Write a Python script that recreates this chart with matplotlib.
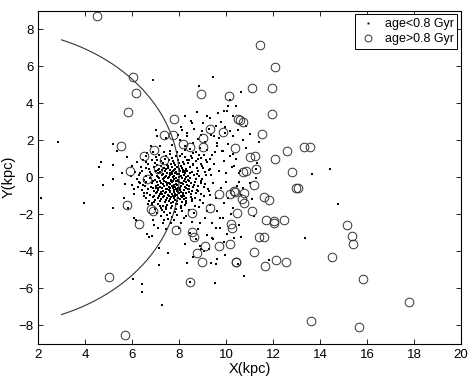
import numpy as np
import matplotlib
matplotlib.use("Agg")
import matplotlib.pyplot as plt

plt.rcParams['font.family'] = ['Liberation Sans', 'DejaVu Sans']

# stars older than 0.8 Gyr (open circles)
old_stars = [
    (4.51, 8.68), (6.04, 5.41), (6.15, 4.55), (5.84, 3.50), (7.77, 3.16), (5.53, 1.71),
    (7.34, 2.26), (7.73, 2.30), (6.52, 1.12), (6.92, 1.48), (5.93, 0.36), (7.37, 0.95),
    (8.18, 1.78), (8.45, 1.64), (8.91, 4.50), (10.11, 4.37), (9.32, 2.59), (9.87, 2.46),
    (9.00, 2.12), (9.03, 1.62), (10.38, 1.60), (10.49, 3.16), (10.61, 3.07), (10.70, 2.98),
    (7.09, 0.45), (6.64, -0.12), (11.46, 7.12), (12.08, 5.93), (11.12, 4.84), (11.94, 4.82),
    (11.96, 3.42), (11.53, 2.34), (13.30, 1.65), (13.56, 1.65), (12.58, 1.40), (11.23, 1.17),
    (11.03, 1.08), (12.07, 0.97), (12.82, 0.29), (10.72, 0.27), (10.86, 0.31), (11.25, 0.43),
    (11.19, -0.43), (12.96, -0.57), (13.06, -0.57), (10.35, -0.75), (10.78, -0.88),
    (10.69, -1.20), (10.75, -1.42), (11.62, -1.09), (11.83, -1.22), (11.11, -1.81),
    (10.47, -1.96), (11.69, -2.33), (12.03, -2.39), (12.03, -2.46), (12.45, -2.32),
    (15.13, -2.57), (15.36, -3.18), (15.40, -3.63), (11.42, -3.21), (11.63, -3.23),
    (11.19, -4.04), (14.49, -4.29), (10.40, -4.56), (11.65, -4.78), (12.14, -4.47),
    (12.55, -4.60), (15.83, -5.51), (17.79, -6.72), (13.62, -7.78), (15.66, -8.07),
    (9.70, -0.93), (10.18, -0.93), (10.37, -0.79), (9.33, -1.69), (5.79, -1.51),
    (6.82, -1.74), (6.88, -1.82), (6.30, -2.53), (8.54, -1.92), (7.87, -2.86), (8.55, -2.95),
    (8.65, -3.24), (9.12, -3.72), (9.69, -3.72), (10.15, -3.63), (10.20, -2.55),
    (10.23, -2.77), (8.77, -4.08), (8.98, -4.56), (10.41, -4.56), (5.02, -5.41),
    (8.48, -5.66), (5.70, -8.50),
]

# young stars (dots): dense core around the Sun
young_core = [
    (7.35, 1.34), (7.62, 1.27), (7.91, 1.36), (8.12, 1.25), (6.90, 1.38), (8.60, 1.32),
    (7.02, 1.08), (7.44, 1.15), (7.71, 1.04), (7.86, 1.12), (8.27, 1.07), (8.52, 1.16),
    (6.60, 1.12), (8.95, 1.05), (6.84, 0.92), (7.21, 0.86), (7.55, 0.95), (7.76, 0.88),
    (7.97, 0.93), (8.16, 0.84), (8.41, 0.91), (8.70, 0.87), (9.15, 0.95), (6.68, 0.73),
    (7.06, 0.66), (7.31, 0.75), (7.49, 0.68), (7.64, 0.72), (7.81, 0.65), (8.01, 0.74),
    (8.21, 0.69), (8.36, 0.76), (8.61, 0.67), (8.92, 0.71), (6.58, 0.47), (6.91, 0.53),
    (7.14, 0.45), (7.36, 0.52), (7.54, 0.48), (7.69, 0.55), (7.84, 0.46), (7.96, 0.53),
    (8.11, 0.49), (8.29, 0.44), (8.46, 0.54), (8.74, 0.48), (9.02, 0.51), (9.30, 0.45),
    (6.44, 0.31), (6.76, 0.26), (7.01, 0.33), (7.19, 0.27), (7.41, 0.34), (7.59, 0.25),
    (7.73, 0.32), (7.87, 0.28), (8.03, 0.35), (8.17, 0.26), (8.34, 0.31), (8.56, 0.27),
    (8.81, 0.33), (9.12, 0.28), (6.31, 0.12), (6.61, 0.06), (6.86, 0.13), (7.04, 0.07),
    (7.26, 0.14), (7.46, 0.05), (7.61, 0.11), (7.77, 0.08), (7.91, 0.15), (8.06, 0.04),
    (8.21, 0.12), (8.39, 0.07), (8.62, 0.13), (8.86, 0.06), (6.19, -0.08), (6.49, -0.13),
    (6.74, -0.06), (6.96, -0.14), (7.14, -0.07), (7.33, -0.12), (7.51, -0.05), (7.66, -0.13),
    (7.79, -0.08), (7.94, -0.15), (8.11, -0.06), (8.27, -0.11), (8.46, -0.04), (8.71, -0.12),
    (8.96, -0.08), (6.34, -0.32), (6.61, -0.26), (6.84, -0.34), (7.06, -0.27), (7.24, -0.33),
    (7.43, -0.25), (7.57, -0.31), (7.71, -0.28), (7.87, -0.35), (8.01, -0.26), (8.14, -0.32),
    (8.31, -0.27), (8.49, -0.34), (8.66, -0.28), (8.91, -0.31), (6.24, -0.52), (6.56, -0.46),
    (6.79, -0.54), (7.01, -0.48), (7.19, -0.55), (7.37, -0.47), (7.56, -0.53), (7.69, -0.45),
    (7.83, -0.51), (7.96, -0.56), (8.09, -0.47), (8.24, -0.52), (8.43, -0.46), (8.59, -0.54),
    (8.81, -0.49), (9.06, -0.53), (6.41, -0.71), (6.69, -0.66), (6.93, -0.74), (7.11, -0.68),
    (7.31, -0.73), (7.47, -0.65), (7.63, -0.72), (7.77, -0.67), (7.91, -0.75), (8.04, -0.69),
    (8.21, -0.71), (8.37, -0.66), (8.56, -0.74), (8.76, -0.68), (6.51, -0.88), (6.77, -0.94),
    (7.01, -0.86), (7.19, -0.93), (7.41, -0.87), (7.54, -0.95), (7.71, -0.89), (7.84, -0.92),
    (8.01, -0.85), (8.16, -0.94), (8.31, -0.88), (8.51, -0.93), (8.73, -0.87), (8.94, -0.92),
    (6.59, -1.12), (6.89, -1.06), (7.09, -1.14), (7.31, -1.07), (7.47, -1.13), (7.66, -1.05),
    (7.79, -1.11), (7.96, -1.15), (8.11, -1.08), (8.29, -1.12), (8.49, -1.06), (8.69, -1.13),
    (6.71, -1.28), (6.94, -1.34), (7.17, -1.27), (7.39, -1.33), (7.57, -1.26), (7.76, -1.32),
    (7.91, -1.29), (8.11, -1.35), (8.31, -1.27), (8.54, -1.31), (6.86, -1.52), (7.09, -1.46),
    (7.31, -1.54), (7.49, -1.48), (7.71, -1.53), (7.87, -1.47), (8.06, -1.55), (8.27, -1.49),
    (6.96, -1.71), (7.21, -1.66), (7.44, -1.74), (7.64, -1.68), (7.86, -1.73), (8.09, -1.67),
    (7.06, -1.92), (7.34, -1.87), (7.59, -1.94), (7.81, -1.88), (7.21, -2.11), (7.49, -2.06),
    (7.71, -2.14),
    (7.08, 0.41), (7.27, 0.38), (7.45, 0.42), (7.63, 0.37), (7.80, 0.40), (7.98, 0.43),
    (8.15, 0.39), (7.12, 0.21), (7.30, 0.18), (7.50, 0.20), (7.68, 0.17), (7.83, 0.22),
    (7.99, 0.19), (8.26, 0.20), (7.10, 0.00), (7.38, 0.02), (7.55, -0.01), (7.72, 0.01),
    (7.86, -0.02), (8.00, 0.03), (8.31, -0.01), (6.90, -0.20), (7.20, -0.21), (7.37, -0.19),
    (7.64, -0.20), (7.76, -0.22), (7.92, -0.18), (8.20, -0.20), (8.40, -0.22), (7.10, -0.40),
    (7.30, -0.39), (7.47, -0.41), (7.62, -0.38), (7.77, -0.42), (7.90, -0.40), (8.16, -0.38),
    (8.35, -0.41), (6.88, -0.60), (7.08, -0.61), (7.26, -0.59), (7.43, -0.62), (7.60, -0.60),
    (7.74, -0.58), (7.88, -0.63), (8.02, -0.60), (8.30, -0.59), (7.05, -0.80), (7.24, -0.79),
    (7.45, -0.81), (7.60, -0.78), (7.77, -0.82), (7.95, -0.80), (8.10, -0.79), (8.44, -0.81),
    (6.95, -1.00), (7.16, -1.01), (7.36, -0.99), (7.56, -1.02), (7.73, -1.00), (7.90, -0.98),
    (8.06, -1.01), (8.22, -1.00), (7.22, -1.20), (7.44, -1.21), (7.62, -1.19), (7.84, -1.22),
    (8.02, -1.20), (8.20, -1.18),
    (6.47, -0.41), (6.63, -0.83), (6.72, 0.44), (6.83, -1.41), (6.97, 0.78), (7.03, -0.56),
    (7.13, 1.21), (7.17, -1.58), (7.23, 0.58), (7.28, -0.92), (7.34, -0.03), (7.39, 0.97),
    (7.42, -1.63), (7.48, -0.33), (7.52, 0.61), (7.58, -0.71), (7.61, 1.42), (7.67, -1.37),
    (7.70, 0.29), (7.74, -0.47), (7.79, 0.77), (7.82, -1.02), (7.85, -0.18), (7.89, 0.55),
    (7.93, -1.45), (7.97, -0.64), (8.02, 1.13), (8.07, -0.32), (8.09, 0.62), (8.13, -1.82),
    (8.18, -0.87), (8.23, 0.33), (8.28, -1.38), (8.33, 0.93), (8.37, -0.16), (8.42, -0.63),
    (8.47, 0.23), (8.53, -1.19), (8.58, 0.71), (8.63, -0.43), (8.68, -1.55), (8.74, 0.17),
    (8.79, -0.77), (8.85, 1.21), (8.88, -1.23), (8.93, -0.23), (8.99, 0.63), (9.04, -1.03),
    (9.09, -0.39), (9.13, 0.12), (9.21, -0.62), (9.17, 0.83), (9.27, 0.37), (9.33, -0.95),
    (6.37, 0.55), (6.52, -1.04), (6.28, -0.27), (6.13, 0.28), (6.08, -0.66), (6.57, 0.82),
    (6.66, -1.47), (6.79, 0.16), (6.99, -1.23), (7.07, 0.93), (7.27, -1.78), (7.53, -2.27),
    (7.35, -2.31), (7.91, -2.03), (8.19, -2.22), (8.41, -1.77), (8.62, -1.93), (8.83, -1.63),
    (9.02, -1.37), (9.19, -1.82), (8.23, 1.47), (8.53, 1.02), (8.79, 0.97), (9.05, 1.22),
    (9.31, 0.97), (9.52, 1.37),
]

# young stars: sparser halo around the core
young_halo = [
    (8.45, 1.50), (8.70, 1.35), (8.90, 1.60), (9.20, 1.45), (9.40, 1.20), (9.60, 1.70),
    (9.10, 1.90), (8.80, 2.05), (9.35, 2.30), (9.70, 2.10), (9.95, 2.70), (10.15, 2.50),
    (9.80, 3.00), (10.30, 3.30), (10.05, 3.60), (10.40, 3.85), (9.55, 2.75), (9.25, 2.60),
    (8.95, 2.30), (8.60, 1.85), (8.25, 1.70), (8.05, 2.00), (8.35, 2.40), (8.65, 2.60),
    (9.00, 2.90), (9.30, 3.20), (9.65, 3.45), (8.50, 3.05), (8.10, 2.70), (7.95, 2.30),
    (7.70, 1.75), (9.85, 1.40), (10.10, 1.80), (9.90, 0.90), (9.50, 0.70), (9.70, 0.35),
    (9.35, 0.10), (10.00, 0.20), (10.25, 0.55), (9.45, -0.30), (9.80, -0.60), (10.00, -0.25),
    (9.25, -0.75), (9.55, -1.10), (9.90, -1.40), (10.10, -1.15), (9.30, -1.50), (9.60, -1.85),
    (9.85, -2.20), (10.20, -2.00), (9.10, -2.20), (8.90, -2.50), (9.40, -2.45), (9.75, -2.75),
    (10.05, -3.05), (9.20, -3.10), (8.80, -2.80), (8.55, -2.40), (8.30, -2.10), (8.10, -2.50),
    (8.25, -3.60), (9.45, -3.35), (10.35, -3.30), (9.90, -3.50), (10.55, -2.60), (10.30, -1.65),
    (10.65, -0.95), (10.45, -0.45), (10.30, 1.25), (10.70, 2.00), (10.50, 2.55), (11.00, 2.35),
    (10.09, 3.87), (10.18, 4.19), (9.90, 3.56), (7.03, 2.57), (7.06, 2.25), (7.46, 2.12),
    (7.20, 1.67), (6.64, 1.28), (6.21, 0.83), (6.00, 0.59), (5.79, 1.10), (5.57, 0.24),
    (5.71, -0.36), (6.35, 0.24), (8.27, 3.29), (8.55, 2.93), (8.77, 3.50), (9.19, 3.29),
    (8.11, 2.57), (8.34, 2.21), (8.98, 2.48), (9.47, 2.21), (9.62, 1.85), (9.97, 2.39),
    (9.83, 1.40), (10.18, 1.13), (10.32, 0.59), (10.54, 0.24), (6.64, -3.09), (6.72, -3.25),
    (6.85, -3.20), (7.09, -2.73), (6.07, -2.19), (6.17, -2.33), (5.83, -1.69), (5.67, -1.11),
    (6.90, -2.30), (6.95, -2.60), (7.30, -2.45), (7.45, -2.80), (7.65, -2.50), (7.80, -2.30),
    (8.00, -2.75), (8.45, -3.00), (8.70, -3.35), (8.90, -3.70), (9.05, -4.00), (8.60, -4.30),
    (9.60, -4.40), (9.25, -3.90), (8.35, -4.65), (8.92, -3.86), (9.40, -3.27), (9.59, -2.73),
    (9.76, -2.19), (6.10, -0.90), (6.00, -0.40), (5.95, 0.05), (6.45, 0.95), (6.80, 1.70),
]

# young stars: isolated points far from the core
young_outliers = [
    (2.83, 1.89), (5.19, 1.80), (5.36, 1.44), (4.69, 0.81), (4.58, 0.56), (5.19, 0.65),
    (5.19, -0.09), (4.74, -0.41), (2.14, -1.11), (3.94, -1.40), (5.19, -1.69), (6.88, 5.23),
    (8.83, 4.94), (9.45, 5.39), (10.64, 4.60), (7.16, -3.81), (7.53, -4.08), (7.15, -4.76),
    (6.03, -5.51), (6.41, -5.75), (6.41, -6.18), (7.26, -6.93), (9.52, -5.69), (9.34, -4.62),
    (9.55, -4.71), (9.97, -4.22), (8.48, -5.66), (10.72, -0.57), (11.11, -1.20),
    (11.17, -2.10), (14.74, -1.47), (10.65, -3.21), (13.37, -3.30), (11.81, -4.47),
    (10.49, -4.67), (10.75, -5.34), (10.31, 2.25), (10.40, 0.99), (11.32, 0.74),
    (11.29, 0.42), (10.60, 0.32), (13.65, 0.15), (14.40, 0.45), (10.53, -0.27),
    (10.86, 2.75), (11.00, -0.30), (11.25, -0.05), (10.85, 1.55), (11.40, 1.90),
]

R_SUN = 8.0        # solar circle radius (kpc)
ARC_LIMIT = 68.0   # degrees either side of the x axis

young = np.array(young_core + young_halo + young_outliers)
old = np.array(old_stars)

fig = plt.figure(figsize=(4.71, 3.77), dpi=100)
ax = fig.add_axes([0.081, 0.088, 0.898, 0.884])

ax.plot(young[:, 0], young[:, 1], linestyle='None', marker='s', markersize=1.7,
        markeredgewidth=0, color='black', label='age<0.8 Gyr')
ax.plot(old[:, 0], old[:, 1], linestyle='None', marker='o', markersize=6.2,
        markerfacecolor='none', markeredgecolor='#333333', markeredgewidth=0.7,
        label='age>0.8 Gyr')

theta = np.radians(np.linspace(-ARC_LIMIT, ARC_LIMIT, 300))
ax.plot(R_SUN * np.cos(theta), R_SUN * np.sin(theta), color='#333333', linewidth=0.8)

ax.set_xlim(2, 20)
ax.set_ylim(-9, 9)
ax.set_xticks(np.arange(2, 21, 2))
ax.set_yticks(np.arange(-8, 9, 2))
ax.tick_params(direction='in', top=True, right=True, labelsize=9.5, length=3.5, width=0.6)
for s in ax.spines.values():
    s.set_linewidth(0.8)

ax.set_xlabel('X(kpc)', fontsize=10.5, labelpad=1)
ax.set_ylabel('Y(kpc)', fontsize=10.5, labelpad=2)

leg = ax.legend(loc='upper right', fontsize=9, fancybox=False, framealpha=1,
                edgecolor='black', borderaxespad=0.3, handletextpad=0.6,
                borderpad=0.3, labelspacing=0.25, handlelength=1.5, markerscale=0.8)
leg.get_frame().set_linewidth(0.7)

fig.savefig('out.png', dpi=100)
